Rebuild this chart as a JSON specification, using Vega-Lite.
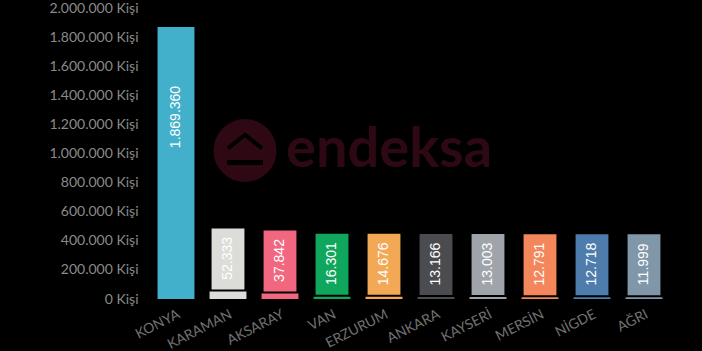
{
  "$schema": "https://vega.github.io/schema/vega-lite/v6.json",
  "width": 520,
  "height": 291,
  "autosize": {"type": "none"},
  "padding": {"left": 150, "top": 8, "right": 32, "bottom": 52},
  "background": "#000000",
  "config": {
    "view": {"stroke": null},
    "locale": {"number": {"decimal": ",", "thousands": ".", "grouping": [3], "currency": ["", " TL"]}}
  },
  "datasets": {
    "iller": [
      {"il": "KONYA", "kisi": 1869360},
      {"il": "KARAMAN", "kisi": 52333},
      {"il": "AKSARAY", "kisi": 37842},
      {"il": "VAN", "kisi": 16301},
      {"il": "ERZURUM", "kisi": 14676},
      {"il": "ANKARA", "kisi": 13166},
      {"il": "KAYSERİ", "kisi": 13003},
      {"il": "MERSİN", "kisi": 12791},
      {"il": "NİGDE", "kisi": 12718},
      {"il": "AĞRI", "kisi": 11999}
    ],
    "filigran": [
      {"il": "VAN", "kisi": 1000000, "t": "endeksa"}
    ],
    "logo": [
      {"il": "AKSARAY", "kisi": 1020000}
    ]
  },
  "data": {"name": "iller"},
  "encoding": {
    "x": {
      "field": "il", "type": "nominal", "sort": null,
      "scale": {
        "domain": ["KONYA", "KARAMAN", "AKSARAY", "VAN", "ERZURUM", "ANKARA", "KAYSERİ", "MERSİN", "NİGDE", "AĞRI"],
        "paddingInner": 0.29, "paddingOuter": 0.145
      },
      "axis": {
        "title": null, "domain": false, "ticks": false,
        "labelAngle": -27, "labelAlign": "right", "labelBaseline": "top",
        "labelPadding": 8, "labelColor": "#707070", "labelFont": "Lato", "labelFontSize": 14
      }
    },
    "y": {
      "field": "kisi", "type": "quantitative",
      "scale": {"domain": [0, 2000000], "nice": false},
      "axis": {
        "title": null, "domain": false, "ticks": false, "grid": false,
        "values": [0, 200000, 400000, 600000, 800000, 1000000, 1200000, 1400000, 1600000, 1800000, 2000000],
        "labelExpr": "format(datum.value, ',d') + ' Kişi'",
        "labelPadding": 12, "labelColor": "#8a8a8a", "labelFont": "Lato", "labelFontSize": 14
      }
    }
  },
  "layer": [
    {
      "data": {"name": "filigran"},
      "mark": {"type": "text", "font": "Lato", "fontSize": 56, "fontWeight": "bold", "align": "left", "baseline": "middle", "xOffset": -46, "yOffset": -4, "fill": "#2e0914"},
      "encoding": {
        "text": {"field": "t"}
      }
    },
    {
      "data": {"name": "logo"},
      "mark": {"type": "point", "filled": true, "shape": "circle", "size": 3970, "opacity": 1, "xOffset": -35, "fill": "#2e0914", "stroke": null}
    },
    {
      "data": {"name": "logo"},
      "mark": {"type": "point", "filled": false, "shape": "M-1,0.4L0,-0.4L1,0.4", "size": 1156, "opacity": 1, "xOffset": -35, "yOffset": -9, "stroke": "#000000", "strokeWidth": 4, "fill": null}
    },
    {
      "data": {"name": "logo"},
      "mark": {"type": "point", "filled": true, "shape": "M-1,-0.14L1,-0.14L1,0.14L-1,0.14Z", "size": 1296, "opacity": 1, "xOffset": -35, "yOffset": 12, "fill": "#000000", "stroke": null}
    },
    {
      "mark": {"type": "bar"},
      "encoding": {
        "color": {
          "field": "il", "type": "nominal", "legend": null,
          "scale": {
            "domain": ["KONYA", "KARAMAN", "AKSARAY", "VAN", "ERZURUM", "ANKARA", "KAYSERİ", "MERSİN", "NİGDE", "AĞRI"],
            "range": ["#42b0ca", "#dcdcd9", "#f0677f", "#0fa75d", "#f3a856", "#4a4c50", "#9ea4aa", "#f3875b", "#4e7cad", "#8096a9"]
          }
        }
      }
    },
    {
      "transform": [{"filter": "datum.kisi < 1000000"}],
      "mark": {"type": "bar", "width": {"band": 0.89}, "yOffset": -63, "y2Offset": -2},
      "encoding": {
        "y2": {"field": "kisi"},
        "color": {"field": "il", "type": "nominal", "legend": null}
      }
    },
    {
      "transform": [{"filter": "datum.kisi < 1000000"}],
      "mark": {"type": "text", "angle": 270, "align": "center", "baseline": "middle", "font": "Liberation Sans", "fontSize": 14, "yOffset": -33, "fill": "#ffffff"},
      "encoding": {
        "text": {"field": "kisi", "type": "quantitative", "format": ",d"}
      }
    },
    {
      "transform": [{"filter": "datum.kisi >= 1000000"}],
      "mark": {"type": "text", "angle": 270, "align": "center", "baseline": "middle", "font": "Liberation Sans", "fontSize": 14, "yOffset": 90, "fill": "#ffffff"},
      "encoding": {
        "text": {"field": "kisi", "type": "quantitative", "format": ",d"}
      }
    }
  ]
}
